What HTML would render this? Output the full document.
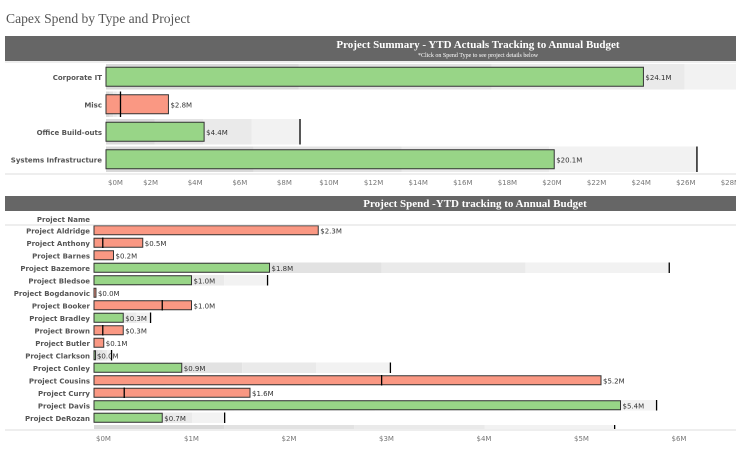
<!DOCTYPE html>
<html><head><meta charset="utf-8"><style>
body{margin:0;background:#fff;width:736px;height:454px;overflow:hidden;font-family:"DejaVu Sans","Liberation Sans",sans-serif;}
svg text{font-family:"DejaVu Sans","Liberation Sans",sans-serif;}
</style></head><body>
<svg id="c" width="736" height="454">
<text x="6" y="23" font-size="13.6" fill="#555" style="font-family:'Liberation Serif',serif">Capex Spend by Type and Project</text>
<rect x="5" y="36" width="731" height="25" fill="#666"/>
<text x="478" y="48" text-anchor="middle" fill="#fff" font-size="11" font-weight="bold" style="font-family:'Liberation Serif',serif">Project Summary - YTD Actuals Tracking to Annual Budget</text>
<text x="478" y="57" text-anchor="middle" fill="#fff" font-size="6" style="font-family:'Liberation Serif',serif">*Click on Spend Type to see project details below</text>
<rect x="5" y="196" width="731" height="15" fill="#666"/>
<text x="475" y="207" text-anchor="middle" fill="#fff" font-size="11" font-weight="bold" style="font-family:'Liberation Serif',serif">Project Spend -YTD tracking to Annual Budget</text>
<text x="90" y="222" text-anchor="end" fill="#555" font-size="7" font-weight="bold">Project Name</text>
<g id="top"></g><g id="bot"></g>
</svg>
<script>
const typeNames=["Corporate IT","Misc","Office Build-outs","Systems Infrastructure"];
const typeActual=[24.1,2.8,4.4,20.1];
const typeTarget=[34.6,0.65,8.7,26.5];
const typeTicks=[0,2,4,6,8,10,12,14,16,18,20,22,24,26,28];

const projNames=["Project Aldridge","Project Anthony","Project Barnes","Project Bazemore","Project Bledsoe","Project Bogdanovic","Project Booker","Project Bradley","Project Brown","Project Butler","Project Clarkson","Project Conley","Project Cousins","Project Curry","Project Davis","Project DeRozan",""];
const projActual=[2.3,0.5,0.2,1.8,1.0,0.02,1.0,0.3,0.3,0.1,0.01,0.9,5.2,1.6,5.4,0.7,0];
const projTarget=[0,0.09,0,5.9,1.78,0,0.7,0.58,0.09,0,0.18,3.04,2.95,0.31,5.77,1.34,5.34];
const projTicks=[0,1,2,3,4,5,6];

const NS="http://www.w3.org/2000/svg";
function mk(p,t,a){const e=document.createElementNS(NS,t);for(const k in a)e.setAttribute(k,a[k]);p.appendChild(e);return e;}
const shades=["#d9d9d9","#e2e2e2","#eaeaea","#f2f2f2"];
function chart(g,names,act,tgt,ticks,x0,xmax,pxPerM,y0,rowH,barH,fs,axisY,clipY){
  const X=v=>x0+v*pxPerM;
  names.forEach((n,i)=>{
    const yt=y0+i*rowH, yc=yt+rowH/2;
    const t=tgt[i];
    for(let q=0;q<4;q++){
      const a=X(t*q/4), b=Math.min(X(t*(q+1)/4),xmax);
      if(b>a){const r=mk(g,'rect',{x:a,y:yt+1,width:b-a,height:Math.min(rowH-2,clipY-yt-1),fill:shades[q]});
      
      }
    }
    if(names[i]!==""){
      const bar=mk(g,'rect',{x:x0,y:yc-barH/2,width:Math.max(act[i]*pxPerM,1.5),height:barH,fill:act[i]<t?"#98d587":"#fa9883",stroke:"#333","stroke-width":1});
      
      
      const lb=mk(g,'text',{x:X(act[i])+2,y:yc+3,"font-size":fs,fill:"#333"});lb.textContent="$"+act[i].toFixed(1)+"M";
      
      
      const nl=mk(g,'text',{x:x0-4,y:yc+3,"text-anchor":"end","font-size":fs,"font-weight":"bold",fill:"#555"});nl.textContent=n;
      
      
    }
    if(t>0&&X(t)<xmax){const tl=mk(g,'line',{x1:X(t),x2:X(t),y1:yt+1,y2:Math.min(yt+rowH-1,clipY),stroke:"#000","stroke-width":1.3});
      
      }
  });
  const ax=mk(g,'line',{x1:5,x2:736,y1:axisY,y2:axisY,stroke:"#ddd"});
  
  
  ticks.forEach(v=>{const tx=mk(g,'text',{x:X(v)+(v==0?2:0),y:axisY+11,"text-anchor":v==0?"start":"middle","font-size":7,fill:"#777"});tx.textContent="$"+v+"M";
    
    });
}
chart(document.getElementById('top'),typeNames,typeActual,typeTarget,typeTicks,106,736,22.3,63,27.5,19,7,174,174);
const l1=mk(document.getElementById('top'),'line',{x1:5,x2:736,y1:62,y2:62,stroke:"#ddd"});
chart(document.getElementById('bot'),projNames,projActual,projTarget,projTicks,94,736,97.5,224,12.5,9,7,430,429);
const l2=mk(document.getElementById('bot'),'line',{x1:5,x2:736,y1:225,y2:225,stroke:"#ddd"});
</script>
</body></html>
